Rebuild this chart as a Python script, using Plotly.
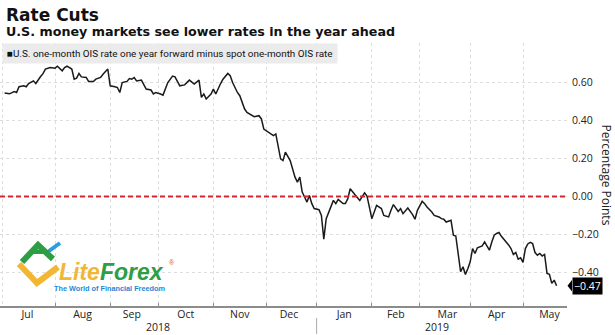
import plotly.graph_objects as go

# ---------------- data ----------------
dates = [
    "2018-07-03", "2018-07-05", "2018-07-09", "2018-07-10", "2018-07-11", "2018-07-13",
    "2018-07-16", "2018-07-17", "2018-07-19", "2018-07-20", "2018-07-24", "2018-07-25",
    "2018-07-26", "2018-07-30", "2018-08-01", "2018-08-02", "2018-08-06", "2018-08-07",
    "2018-08-08", "2018-08-10", "2018-08-13", "2018-08-14", "2018-08-15", "2018-08-16",
    "2018-08-20", "2018-08-21", "2018-08-23", "2018-08-24", "2018-08-28", "2018-08-29",
    "2018-08-31", "2018-09-03", "2018-09-05", "2018-09-06", "2018-09-07", "2018-09-10",
    "2018-09-12", "2018-09-13", "2018-09-14", "2018-09-17", "2018-09-18", "2018-09-20",
    "2018-09-24", "2018-09-26", "2018-09-27", "2018-09-28", "2018-10-02", "2018-10-03",
    "2018-10-05", "2018-10-09", "2018-10-10", "2018-10-12", "2018-10-16", "2018-10-18",
    "2018-10-22", "2018-10-24", "2018-10-25", "2018-10-26", "2018-10-29", "2018-10-31",
    "2018-11-01", "2018-11-02", "2018-11-06", "2018-11-07", "2018-11-09", "2018-11-12",
    "2018-11-13", "2018-11-15", "2018-11-16", "2018-11-20", "2018-11-21", "2018-11-26",
    "2018-11-28", "2018-11-29", "2018-11-30", "2018-12-04", "2018-12-06", "2018-12-07",
    "2018-12-11", "2018-12-12", "2018-12-13", "2018-12-17", "2018-12-19", "2018-12-20",
    "2018-12-21", "2018-12-24", "2018-12-26", "2018-12-27", "2018-12-28", "2018-12-31",
    "2019-01-02", "2019-01-03", "2019-01-04", "2019-01-07", "2019-01-09", "2019-01-10",
    "2019-01-11", "2019-01-14", "2019-01-16", "2019-01-17", "2019-01-18", "2019-01-21",
    "2019-01-23", "2019-01-24", "2019-01-25", "2019-01-29", "2019-01-30", "2019-01-31",
    "2019-02-01", "2019-02-05", "2019-02-07", "2019-02-08", "2019-02-12", "2019-02-13",
    "2019-02-14", "2019-02-18", "2019-02-19", "2019-02-20", "2019-02-22", "2019-02-26",
    "2019-02-27", "2019-02-28", "2019-03-04", "2019-03-05", "2019-03-06", "2019-03-08",
    "2019-03-11", "2019-03-13", "2019-03-14", "2019-03-15", "2019-03-18", "2019-03-20",
    "2019-03-21", "2019-03-22", "2019-03-25", "2019-03-26", "2019-03-27", "2019-03-28",
    "2019-03-29", "2019-04-01", "2019-04-02", "2019-04-03", "2019-04-04", "2019-04-05",
    "2019-04-08", "2019-04-09", "2019-04-10", "2019-04-11", "2019-04-12", "2019-04-15",
    "2019-04-16", "2019-04-17", "2019-04-18", "2019-04-19", "2019-04-22", "2019-04-23",
    "2019-04-24", "2019-04-25", "2019-04-26", "2019-04-29", "2019-04-30", "2019-05-01",
    "2019-05-02", "2019-05-03", "2019-05-06", "2019-05-07", "2019-05-08", "2019-05-09",
    "2019-05-10", "2019-05-13", "2019-05-14", "2019-05-15", "2019-05-16", "2019-05-17",
    "2019-05-20", "2019-05-21",
]
values = [
    0.543, 0.539, 0.551, 0.546, 0.576, 0.581,
    0.576, 0.593, 0.607, 0.593, 0.630, 0.645,
    0.669, 0.677, 0.674, 0.684, 0.660, 0.677,
    0.684, 0.669, 0.616, 0.621, 0.646, 0.628,
    0.625, 0.604, 0.604, 0.616, 0.625, 0.642,
    0.669, 0.581, 0.576, 0.572, 0.546, 0.598,
    0.604, 0.619, 0.616, 0.625, 0.607, 0.611,
    0.564, 0.559, 0.538, 0.546, 0.538, 0.532,
    0.598, 0.632, 0.628, 0.581, 0.586, 0.611,
    0.590, 0.611, 0.520, 0.538, 0.512, 0.538,
    0.564, 0.538, 0.593, 0.616, 0.646, 0.634,
    0.598, 0.546, 0.529, 0.459, 0.441, 0.419,
    0.424, 0.407, 0.354, 0.337, 0.319, 0.328,
    0.197, 0.188, 0.232, 0.188, 0.101, 0.075,
    0.101, 0.023, -0.030, 0.005, -0.038, -0.064,
    -0.070, -0.100, -0.225, -0.117, -0.056, -0.021,
    -0.038, -0.016, -0.038, -0.038, -0.012, 0.040,
    0.009, -0.004, -0.021, 0.019, 0.002, -0.056,
    -0.117, -0.047, -0.064, -0.100, -0.108, -0.073,
    -0.043, -0.079, -0.064, -0.091, -0.061, -0.096,
    -0.120, -0.073, -0.026, -0.038, -0.056, -0.082,
    -0.100, -0.108, -0.117, -0.120, -0.135, -0.126,
    -0.204, -0.208, -0.309, -0.396, -0.370, -0.410,
    -0.380, -0.344, -0.274, -0.300, -0.270, -0.265,
    -0.260, -0.239, -0.260, -0.283, -0.240, -0.204,
    -0.195, -0.190, -0.210, -0.225, -0.236, -0.255,
    -0.274, -0.305, -0.295, -0.330, -0.323, -0.347,
    -0.274, -0.250, -0.242, -0.248, -0.295, -0.309,
    -0.300, -0.313, -0.305, -0.405, -0.410, -0.457,
    -0.440, -0.470,
]
series_name = "U.S. one-month OIS rate one year forward minus spot one-month OIS rate"
y_tickvals = [-0.4, -0.2, 0.0, 0.2, 0.4, 0.6]
year_labels = ["2018", "2019"]
year_label_dates = ["2018-10-01", "2019-03-12"]
year_split_date = "2019-01-01"
last_value = values[-1]

# ---------------- figure ----------------
W, H = 615, 335
ML, MR, MT, MB = 0, 48, 43, 29
PW, PH = W - ML - MR, H - MT - MB


def px(x):
    return (x - ML) / PW


def py(y):
    return (H - MB - y) / PH


FONT = "Open Sans, Noto Sans, sans-serif"

fig = go.Figure()
fig.add_trace(go.Scatter(
    x=dates, y=values, mode="lines",
    line=dict(color="#1a1a1a", width=1.5),
    name=series_name, showlegend=False, hoverinfo="skip",
))

shapes = []
# red dashed zero line
shapes.append(dict(type="line", xref="paper", yref="y", x0=0, x1=1, y0=0, y1=0,
                   line=dict(color="#cc2a30", width=2, dash="5px,3px"), layer="above"))
# year separator below axis
shapes.append(dict(type="line", xref="x", yref="paper", x0=year_split_date, x1=year_split_date,
                   y0=py(318), y1=py(334), line=dict(color="#aaaaaa", width=1)))
# last value pointer triangle
shapes.append(dict(type="path", xref="paper", yref="y",
                   path=f"M {px(567.5)} {last_value} L {px(572)} {last_value + 0.03} L {px(572)} {last_value - 0.03} Z",
                   fillcolor="#000000", line=dict(width=0)))

# LiteForex watermark logo (decorative)
def path_str(pts):
    return "M " + " L ".join(f"{px(a)} {py(b)}" for a, b in pts)

shapes.append(dict(type="path", xref="paper", yref="paper",
                   path=path_str([(19, 264), (37, 283), (58, 267)]),
                   line=dict(color="#f2b632", width=6)))
shapes.append(dict(type="path", xref="paper", yref="paper",
                   path=path_str([(22, 262), (38, 245), (53, 259)]),
                   line=dict(color="#2e9e44", width=6)))
shapes.append(dict(type="path", xref="paper", yref="paper",
                   path=path_str([(33, 252), (50, 252)]),
                   line=dict(color="#2e9e44", width=4)))
shapes.append(dict(type="path", xref="paper", yref="paper",
                   path=path_str([(49, 251), (60, 243)]),
                   line=dict(color="#2a9ee0", width=4)))

annotations = []
annotations.append(dict(text="<b>Rate Cuts</b>", xref="paper", yref="paper", x=px(4), y=py(15),
                        xanchor="left", yanchor="middle", showarrow=False,
                        font=dict(family="DejaVu Sans", size=17, color="#111111")))
annotations.append(dict(text="<b>U.S. money markets see lower rates in the year ahead</b>", xref="paper",
                        yref="paper", x=px(4), y=py(32), xanchor="left", yanchor="middle", showarrow=False,
                        font=dict(family="DejaVu Sans", size=12.7, color="#111111")))
annotations.append(dict(text="■" + series_name, xref="paper", yref="paper", x=px(2), y=1,
                        xanchor="left", yanchor="top", showarrow=False, bgcolor="#ebebeb", borderpad=4,
                        font=dict(family="Roboto, sans-serif", size=9.9, color="#111111")))
annotations.append(dict(text="Percentage Points", xref="paper", yref="paper", x=px(606), y=0.5,
                        xanchor="center", yanchor="middle", textangle=90, showarrow=False,
                        font=dict(family=FONT, size=12, color="#222222")))
annotations.append(dict(text=f"{last_value:.2f}".replace("-", "−"), xref="paper", yref="y", x=px(572),
                        y=last_value, xanchor="left", yanchor="middle", showarrow=False,
                        bgcolor="#000000", borderpad=1,
                        font=dict(family=FONT, size=10.5, color="#ffffff")))
for lbl, d in zip(year_labels, year_label_dates):
    annotations.append(dict(text=lbl, xref="x", yref="paper", x=d, y=py(327), xanchor="center",
                            yanchor="middle", showarrow=False, font=dict(family=FONT, size=10.5, color="#222222")))
# logo text
annotations.append(dict(text="<b><i><span style='color:#f2b632'>Lite</span><span style='color:#2e9e44'>Forex</span></i></b>",
                        xref="paper", yref="paper", x=px(57), y=py(272), xanchor="left", yanchor="middle",
                        showarrow=False, font=dict(family="Liberation Sans", size=23)))
annotations.append(dict(text="®", xref="paper", yref="paper", x=px(167), y=py(262), xanchor="left",
                        yanchor="middle", showarrow=False, font=dict(family="Liberation Sans", size=7, color="#e05030")))
annotations.append(dict(text="<b>The World of Financial Freedom</b>", xref="paper", yref="paper", x=px(52),
                        y=py(288), xanchor="left", yanchor="middle", showarrow=False,
                        font=dict(family="Liberation Sans", size=7.3, color="#1e88d6")))

fig.update_layout(
    width=W, height=H,
    margin=dict(l=ML, r=MR, t=MT, b=MB),
    paper_bgcolor="#ffffff", plot_bgcolor="#ffffff",
    font=dict(family=FONT, size=10.5, color="#222222"),
    shapes=shapes, annotations=annotations,
    xaxis=dict(
        type="date",
        range=["2018-06-29 02:00", "2019-05-27 08:00"],
        rangebreaks=[dict(bounds=["sat", "mon"])],
        dtick="M1", tick0="2018-07-01", tickformat="%b", ticklabelmode="period",
        showgrid=True, gridcolor="#dddddd", griddash="dot", gridwidth=1,
        showline=True, linecolor="#8c8c8c", linewidth=2,
        ticks="inside", ticklen=3, tickcolor="#8c8c8c",
        ticklabelstandoff=-3,
        tickfont=dict(size=10.5, color="#222222"),
        zeroline=False, fixedrange=True,
    ),
    yaxis=dict(
        side="right", range=[-0.576, 0.806],
        tickmode="array", tickvals=y_tickvals, tickformat=".2f",
        showgrid=True, gridcolor="#dddddd", griddash="dot", gridwidth=1,
        zeroline=False, showline=False, ticks="", ticklabelstandoff=4,
        tickfont=dict(size=10.5, color="#222222"), fixedrange=True,
    ),
    showlegend=False,
)

fig.write_html("out.html")
